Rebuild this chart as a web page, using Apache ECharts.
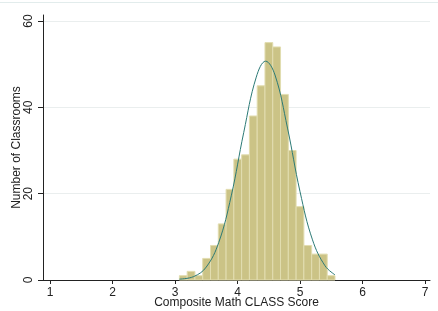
<!DOCTYPE html>
<html>
<head>
<meta charset="utf-8">
<script src="https://cdn.jsdelivr.net/npm/echarts@6/dist/echarts.min.js"></script>
<style>
  html, body { margin: 0; padding: 0; background: #fff; }
  #chart { width: 438px; height: 311px; }
</style>
</head>
<body>
<div id="chart"></div>
<script>
// histogram bins (score)
const binStart = 3.07;
const binWidth = 0.1245;
const counts = [1, 2, 1, 5, 8, 13, 21, 28, 29, 38, 45, 55, 54, 43, 30, 17, 8, 6, 6, 1];

// fitted normal curve
const curveX = [3.07, 3.3, 3.5, 3.7, 3.9, 4.1, 4.3, 4.45, 4.6, 4.8, 5.0, 5.2, 5.4, 5.56];
const curveY = [0.2, 0.8, 3, 8.7, 19.5, 34.2, 47, 50.7, 47.5, 35.2, 20.5, 9.3, 3.3, 1.2];

const xTicks = [1, 2, 3, 4, 5, 6, 7];
const yTicks = [0, 20, 40, 60];

const font = '"Liberation Sans", Arial, sans-serif';
const axisColor = '#222';

const bars = counts.map((c, i) => [binStart + i * binWidth, binStart + (i + 1) * binWidth, c]);

const chart = echarts.init(document.getElementById('chart'), null, { renderer: 'canvas' });

chart.setOption({
    animation: false,
    backgroundColor: '#fff',
    grid: { left: 43, right: 8, top: 15, bottom: 31, containLabel: false, outerBoundsMode: 'none' },
    xAxis: {
        type: 'value', min: 0.888, max: 7.08,
        name: 'Composite Math CLASS Score', nameLocation: 'middle', nameGap: 17, nameMoveOverlap: false,
        nameTextStyle: { fontFamily: font, fontSize: 12, color: '#222' },
        axisLine: { show: true, onZero: false, lineStyle: { color: axisColor, width: 1 } },
        axisTick: { show: true, length: 4, customValues: xTicks, lineStyle: { color: axisColor } },
        axisLabel: { customValues: xTicks, margin: 7, fontFamily: font, fontSize: 12, color: '#222' },
        splitLine: { show: false },
    },
    yAxis: {
        type: 'value', min: 0, max: 61.4, interval: 20,
        name: 'Number of Classrooms', nameLocation: 'middle', nameGap: 20, nameMoveOverlap: false,
        nameTextStyle: { fontFamily: font, fontSize: 12, color: '#222' },
        axisLine: { show: true, lineStyle: { color: axisColor, width: 1 } },
        axisTick: { show: true, length: 5, customValues: yTicks, lineStyle: { color: axisColor } },
        axisLabel: { customValues: yTicks, rotate: 90, margin: 8, fontFamily: font, fontSize: 12, color: '#222' },
        splitLine: { show: true, lineStyle: { color: '#eaeeee', width: 1 } },
    },
    series: [
        {
            type: 'custom',
            data: bars,
            encode: { x: [0, 1], y: 2 },
            renderItem: (params, api) => {
                const p0 = api.coord([api.value(0), 0]);
                const p1 = api.coord([api.value(1), api.value(2)]);
                return {
                    type: 'rect',
                    shape: { x: p0[0], y: p1[1], width: p1[0] - p0[0], height: p0[1] - p1[1] },
                    style: { fill: '#cbc386', stroke: '#e2ddb0', lineWidth: 1 },
                };
            },
            z: 2,
        },
        {
            type: 'line',
            data: curveX.map((x, i) => [x, curveY[i]]),
            smooth: 0.4,
            showSymbol: false,
            lineStyle: { color: '#2c7a76', width: 1 },
            z: 3,
        },
    ],
    graphic: [
        { type: 'rect', shape: { x: 0, y: 2, width: 438, height: 1 }, style: { fill: '#e2ecec' } },
    ],
});
</script>
</body>
</html>
